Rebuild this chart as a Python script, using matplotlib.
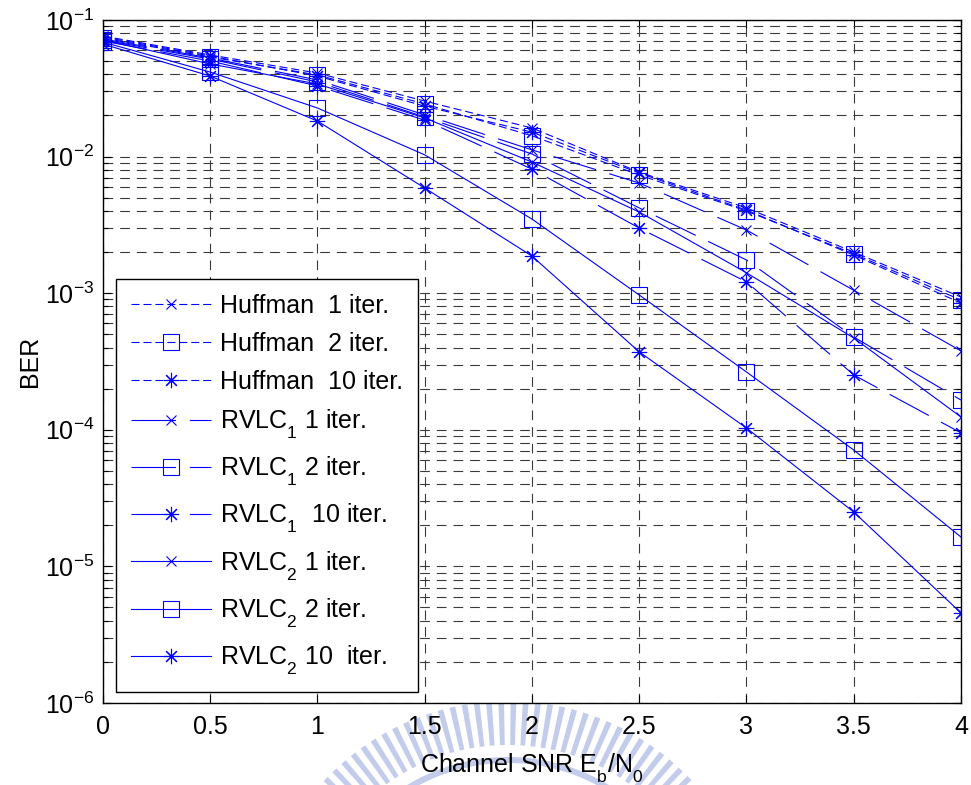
import matplotlib
matplotlib.use("Agg")
import matplotlib.pyplot as plt
from matplotlib.patches import Wedge
from matplotlib.ticker import LogLocator, NullFormatter, LogFormatterSciNotation

try:
    import matplotlib._mathtext as _mt
    _mt.FontConstantsBase.subdrop = 0.75
    _mt.FontConstantsBase.sub1 = 0.75
    _mt.FontConstantsBase.sub2 = 0.75
except Exception:
    pass

plt.rcParams['font.family'] = ['Liberation Sans', 'DejaVu Sans']
plt.rcParams['mathtext.fontset'] = 'custom'
plt.rcParams['mathtext.rm'] = 'Liberation Sans'
plt.rcParams['mathtext.it'] = 'Liberation Sans:italic'
plt.rcParams['mathtext.bf'] = 'Liberation Sans:bold'
plt.rcParams['lines.scale_dashes'] = False

FS = 18

# Eb/N0 points (dB)
snr = [0, 0.5, 1, 1.5, 2, 2.5, 3, 3.5, 4]

# Bit error rates
huff_1 = [0.0763, 0.0555, 0.0409, 0.0255, 0.0162, 0.0077, 0.00421, 0.00200, 0.000937]
huff_2 = [0.0738, 0.0536, 0.0396, 0.0243, 0.0142, 0.00733, 0.00400, 0.00194, 0.000891]
huff_10 = [0.0751, 0.0545, 0.0389, 0.0234, 0.0151, 0.00758, 0.00406, 0.00190, 0.000847]
rvlc1_1 = [0.0726, 0.0527, 0.0364, 0.0202, 0.0112, 0.00641, 0.00290, 0.00105, 0.000378]
rvlc1_2 = [0.0714, 0.0518, 0.0352, 0.0195, 0.01045, 0.00421, 0.00175, 0.000478, 0.000165]
rvlc1_10 = [0.0702, 0.0501, 0.0329, 0.0185, 0.0081, 0.00300, 0.00121, 0.000252, 0.0000949]
rvlc2_1 = [0.0714, 0.0477, 0.0340, 0.0192, 0.00912, 0.00393, 0.00141, 0.000470, 0.000124]
rvlc2_2 = [0.0690, 0.0416, 0.0227, 0.0103, 0.00349, 0.00097, 0.000265, 0.0000711, 0.0000164]
rvlc2_10 = [0.0667, 0.0389, 0.0182, 0.00589, 0.00187, 0.000372, 0.000103, 0.0000250, 0.00000456]

labels = ['Huffman  1 iter.', 'Huffman  2 iter.', 'Huffman  10 iter.',
          r'RVLC$_{\mathrm{1}}$ 1 iter.', r'RVLC$_{\mathrm{1}}$ 2 iter.', r'RVLC$_{\mathrm{1}}$  10 iter.',
          r'RVLC$_{\mathrm{2}}$ 1 iter.', r'RVLC$_{\mathrm{2}}$ 2 iter.', r'RVLC$_{\mathrm{2}}$ 10  iter.']

series = [huff_1, huff_2, huff_10, rvlc1_1, rvlc1_2, rvlc1_10, rvlc2_1, rvlc2_2, rvlc2_10]

xtick_vals = [0, 0.5, 1, 1.5, 2, 2.5, 3, 3.5, 4]
xtick_text = ['0', '0.5', '1', '1.5', '2', '2.5', '3', '3.5', '4']

blue = '#0000ff'
short_dash = (0, (5.8, 2.8))
long_dash = (0, (32, 10))
styles = [short_dash] * 3 + [long_dash] * 3 + ['-'] * 3
asterisk = (8, 2, 0)
markers = ['x', 's', asterisk] * 3
msizes = [6.5, 12, 11] * 3

fig = plt.figure(figsize=(9.71, 7.85), dpi=100)

# faint emblem behind the x-axis label (pixel coordinates, y downward)
bg = fig.add_axes([0, 0, 1, 1], zorder=-5)
bg.set_xlim(0, 971)
bg.set_ylim(785, 0)
bg.axis('off')
emblem = '#c3cdeb'
cx, cy = 508, 953
ang = 223.0
while ang <= 317.0:
    bg.add_patch(Wedge((cx, cy), 252, ang, ang + 1.3, width=44,
                       facecolor=emblem, edgecolor='none'))
    ang += 2.8
bg.add_patch(Wedge((cx, cy), 196, 226, 314, width=6, facecolor=emblem, edgecolor='none'))

ax = fig.add_axes([0.106, 0.1045, 0.8837, 0.870])

for ys, lab, ls, mk, ms in zip(series, labels, styles, markers, msizes):
    ax.semilogy(snr, ys, linestyle=ls, color=blue, linewidth=0.8,
                marker=mk, markersize=ms, markerfacecolor='none',
                markeredgecolor=blue, markeredgewidth=0.8, label=lab)

ax.set_xlim(0, 4)
ax.set_ylim(1e-6, 1e-1)
ax.set_xticks(xtick_vals)
ax.set_xticklabels(xtick_text)
ax.yaxis.set_major_locator(LogLocator(base=10, numticks=10))
ax.yaxis.set_minor_locator(LogLocator(base=10, subs=range(2, 10), numticks=20))
ax.yaxis.set_minor_formatter(NullFormatter())
ax.yaxis.set_major_formatter(LogFormatterSciNotation())

grid_kw = dict(color='#3a3a3a', linewidth=0.8, linestyle=(0, (7, 5)))
ax.grid(True, which='major', axis='both', **grid_kw)
ax.grid(True, which='minor', axis='y', **grid_kw)
ax.set_axisbelow(True)

ax.tick_params(which='both', direction='in', top=True, right=True, labelsize=FS)
ax.tick_params(axis='x', pad=9)
ax.tick_params(axis='y', pad=6)
ax.tick_params(which='major', length=6, width=0.8)
ax.tick_params(which='minor', length=3.5, width=0.8)
for sp in ax.spines.values():
    sp.set_linewidth(1.0)
    sp.set_color('black')

ax.set_xlabel(r'Channel SNR E$_{\mathrm{b}}$/N$_{\mathrm{0}}$', fontsize=FS, labelpad=9)
ax.set_ylabel('BER', fontsize=FS, labelpad=2)

leg = ax.legend(loc='lower left', bbox_to_anchor=(0.015, 0.016), borderaxespad=0,
                fontsize=FS, handlelength=3.2, handletextpad=0.36, borderpad=0.6,
                labelspacing=0.55, numpoints=1, fancybox=False, framealpha=1,
                edgecolor='black')
leg.get_frame().set_linewidth(1.0)

fig.savefig('out.png', dpi=100)
